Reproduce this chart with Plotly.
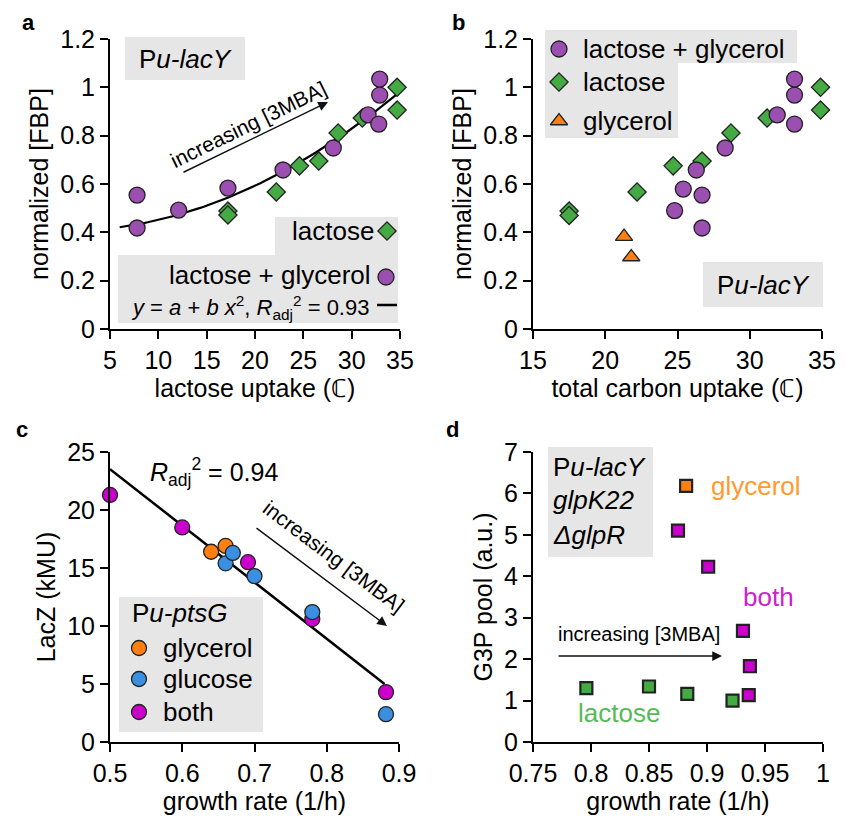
import numpy as np
import plotly.graph_objects as go

PAGE_W, PAGE_H = 845, 823
OFF = 8  # default page body margin
W, H = PAGE_W - OFF, PAGE_H - OFF

# ---------------- data ----------------
# panel a: normalized FBP vs lactose uptake
a_lac_x = [17.2, 17.2, 22.2, 24.6, 26.6, 28.6, 31.1, 34.7, 34.7]
a_lac_y = [0.488, 0.472, 0.567, 0.675, 0.695, 0.811, 0.873, 1.0, 0.906]
a_lg_x = [7.8, 7.8, 12.1, 17.2, 22.9, 28.1, 31.7, 32.8, 32.9, 32.9]
a_lg_y = [0.418, 0.554, 0.492, 0.583, 0.658, 0.749, 0.886, 0.848, 0.968, 1.034]
a_fit_range = [6.0, 34.7]

# panel b: normalized FBP vs total carbon uptake
b_lg_x = [24.8, 25.4, 26.3, 26.7, 26.7, 28.3, 31.9, 33.1, 33.1, 33.1]
b_lg_y = [0.49, 0.579, 0.658, 0.554, 0.418, 0.749, 0.886, 0.848, 0.968, 1.034]
b_lac_x = [17.5, 17.5, 22.2, 24.7, 26.7, 28.7, 31.2, 34.9, 34.9]
b_lac_y = [0.488, 0.47, 0.567, 0.675, 0.695, 0.811, 0.873, 1.0, 0.906]
b_gly_x = [21.3, 21.8]
b_gly_y = [0.382, 0.298]

# panel c: LacZ vs growth rate
c_both_x = [0.5, 0.6, 0.691, 0.78, 0.882]
c_both_y = [21.3, 18.5, 15.5, 10.6, 4.3]
c_gly_x = [0.64, 0.66]
c_gly_y = [16.4, 16.9]
c_glu_x = [0.66, 0.67, 0.70, 0.78, 0.882]
c_glu_y = [15.4, 16.3, 14.3, 11.2, 2.4]
c_fit_range = [0.5, 0.88]

# panel d: G3P pool vs growth rate
d_gly_x = [0.882]
d_gly_y = [6.18]
d_both_x = [0.875, 0.901, 0.931, 0.937, 0.936]
d_both_y = [5.1, 4.23, 2.68, 1.83, 1.13]
d_lac_x = [0.796, 0.85, 0.883, 0.922]
d_lac_y = [1.30, 1.34, 1.16, 1.0]

# ---------------- styles ----------------
FONT = "Liberation Sans, Arial, sans-serif"
TXT = "#000000"
PURPLE = "#9b4fb0"
GREEN = "#44aa44"
ORANGE = "#ff8010"
MAGENTA = "#cc00cc"
BLUE = "#3b8fe0"
GRAY = "#e6e6e6"

fig = go.Figure()

# ---- fits ----
ax_all = np.array(a_lac_x + a_lg_x)
ay_all = np.array(a_lac_y + a_lg_y)
A = np.vstack([np.ones_like(ax_all), ax_all ** 2]).T
(fa, fb), *_ = np.linalg.lstsq(A, ay_all, rcond=None)
xa = np.linspace(a_fit_range[0], a_fit_range[1], 100)
fig.add_trace(go.Scatter(x=xa, y=fa + fb * xa ** 2, mode="lines",
                         line=dict(color="black", width=2.2), xaxis="x", yaxis="y"))

cx_all = np.array(c_both_x + c_gly_x + c_glu_x)
cy_all = np.array(c_both_y + c_gly_y + c_glu_y)
slope, icpt = np.polyfit(cx_all, cy_all, 1)
xc = np.array(c_fit_range)
fig.add_trace(go.Scatter(x=xc, y=icpt + slope * xc, mode="lines",
                         line=dict(color="black", width=2.5), xaxis="x3", yaxis="y3"))


def pts(x, y, sym, color, size, xa_, ya_, lw=1.3):
    fig.add_trace(go.Scatter(x=x, y=y, mode="markers", cliponaxis=False,
                             marker=dict(symbol=sym, color=color, size=size,
                                         line=dict(color="#222222", width=lw)),
                             xaxis=xa_, yaxis=ya_))


# panel a
pts(a_lac_x, a_lac_y, "diamond", GREEN, 14, "x", "y")
pts(a_lg_x, a_lg_y, "circle", PURPLE, 16, "x", "y")
# panel b
pts(b_lac_x, b_lac_y, "diamond", GREEN, 14, "x2", "y2")
pts(b_lg_x, b_lg_y, "circle", PURPLE, 16, "x2", "y2")
pts(b_gly_x, b_gly_y, "triangle-up", ORANGE, 15, "x2", "y2")
# panel c
pts(c_both_x, c_both_y, "circle", MAGENTA, 15, "x3", "y3")
pts(c_gly_x, c_gly_y, "circle", ORANGE, 15, "x3", "y3")
pts(c_glu_x, c_glu_y, "circle", BLUE, 15, "x3", "y3")
# panel d
pts(d_lac_x, d_lac_y, "square", GREEN, 12, "x4", "y4", lw=2.2)
pts(d_both_x, d_both_y, "square", MAGENTA, 12, "x4", "y4", lw=2.2)
pts(d_gly_x, d_gly_y, "square", ORANGE, 12, "x4", "y4", lw=2.2)


# ---- legend symbols (overlay in page pixel space) ----
def sym(x, y, s, color, size):
    fig.add_trace(go.Scatter(x=[x], y=[y], mode="markers", cliponaxis=False,
                             marker=dict(symbol=s, color=color, size=size,
                                         line=dict(color="#222222", width=1.3)),
                             xaxis="x5", yaxis="y5"))


sym(387, 231, "diamond", GREEN, 14)
sym(386, 277, "circle", PURPLE, 16)
fig.add_trace(go.Scatter(x=[377, 397], y=[305, 305], mode="lines",
                         line=dict(color="black", width=2.5), xaxis="x5", yaxis="y5"))
sym(559, 49, "circle", PURPLE, 16)
sym(559, 82, "diamond", GREEN, 14)
sym(559, 121, "triangle-up", ORANGE, 15)
sym(139, 648, "circle", ORANGE, 15)
sym(139, 679, "circle", BLUE, 15)
sym(139, 712, "circle", MAGENTA, 15)


# ---------------- axes ----------------
def px_dom_x(a, b):
    return [(a - OFF) / W, (b - OFF) / W]


def px_dom_y(top, bot):
    return [1 - (bot - OFF) / H, 1 - (top - OFF) / H]


axis_common = dict(showline=True, linecolor="black", linewidth=2, ticks="outside",
                   ticklen=8, tickwidth=2, tickcolor="black", showgrid=False,
                   zeroline=False, automargin=False,
                   tickfont=dict(size=25, family=FONT, color=TXT),
                   title_font=dict(size=25, family=FONT, color=TXT))

lay = dict(
    xaxis=dict(domain=px_dom_x(110, 400), range=[5, 35], dtick=5, anchor="y",
               title=dict(text="lactose uptake (ℂ)", standoff=5), **axis_common),
    yaxis=dict(domain=px_dom_y(39, 329), range=[0, 1.2], dtick=0.2, anchor="x",
               title=dict(text="normalized [FBP]", standoff=4), **axis_common),
    xaxis2=dict(domain=px_dom_x(533, 822), range=[15, 35], dtick=5, anchor="y2",
                title=dict(text="total carbon uptake (ℂ)", standoff=5), **axis_common),
    yaxis2=dict(domain=px_dom_y(39, 329), range=[0, 1.2], dtick=0.2, anchor="x2",
                title=dict(text="normalized [FBP]", standoff=4), **axis_common),
    xaxis3=dict(domain=px_dom_x(110, 399), range=[0.5, 0.9], dtick=0.1, anchor="y3",
                title=dict(text="growth rate (1/h)", standoff=5), **axis_common),
    yaxis3=dict(domain=px_dom_y(452, 742), range=[0, 25], dtick=5, anchor="x3",
                title=dict(text="LacZ (kMU)", standoff=4), **axis_common),
    xaxis4=dict(domain=px_dom_x(533, 823), range=[0.75, 1], dtick=0.05, anchor="y4",
                title=dict(text="growth rate (1/h)", standoff=5), **axis_common),
    yaxis4=dict(domain=px_dom_y(452, 742), range=[0, 7], dtick=1, anchor="x4",
                title=dict(text="G3P pool (a.u.)", standoff=4), **axis_common),
    # overlay axis whose units are page pixels of the screenshot
    xaxis5=dict(domain=[0, 1], range=[OFF, PAGE_W], visible=False, anchor="y5",
                fixedrange=True, automargin=False),
    yaxis5=dict(domain=[0, 1], range=[PAGE_H, OFF], visible=False, anchor="x5",
                fixedrange=True, automargin=False),
)

# ---------------- boxes ----------------
boxes = [
    (125, 37, 245, 80),
    (275, 217, 398, 255), (118, 255, 398, 323),
    (545, 30, 797, 63), (545, 63, 678, 138),
    (703, 262, 823, 307),
    (119, 597, 263, 732),
    (548, 447, 653, 557),
]
shapes = [dict(type="rect", xref="x5", yref="y5", x0=b[0], y0=b[1], x1=b[2], y1=b[3],
               fillcolor=GRAY, line=dict(width=0), layer="below") for b in boxes]


# ---------------- texts ----------------
def txt(x, y, t, size=25, anchor="left", color=TXT, angle=0, vanchor="middle", bold=False):
    return dict(xref="x5", yref="y5", x=x, y=y, text=t, showarrow=False,
                xanchor=anchor, yanchor=vanchor, textangle=angle, borderpad=0,
                font=dict(size=size, family=FONT, color=color,
                          weight="bold" if bold else "normal"))


def arrow(x0, y0, x1, y1):
    return dict(xref="x5", yref="y5", axref="x5", ayref="y5", x=x1, y=y1, ax=x0, ay=y0,
                text="", showarrow=True, arrowhead=2, arrowsize=1.3, arrowwidth=1.5,
                arrowcolor="#111")


ann = [
    txt(28, 22, "a", 22, "center", bold=True),
    txt(458, 22, "b", 22, "center", bold=True),
    txt(22, 429, "c", 22, "center", bold=True),
    txt(452, 429, "d", 22, "center", bold=True),
    # panel a
    txt(185, 59, "P<i>u-lacY</i>", 26, "center"),
    txt(248, 124, "increasing [3MBA]", 21, "center", angle=-26),
    arrow(182, 173, 328, 102),
    txt(375, 231, "lactose", 26, "right"),
    txt(372, 275, "lactose + glycerol", 26, "right"),
    txt(370, 307, "<i>y</i> = <i>a</i> + <i>b x</i><sup>2</sup>, <i>R</i><sub>adj</sub><sup>2</sup> = 0.93",
        22, "right"),
    # panel b
    txt(582, 49, "lactose + glycerol", 26),
    txt(582, 82, "lactose", 26),
    txt(582, 121, "glycerol", 26),
    txt(763, 285, "P<i>u-lacY</i>", 26, "center"),
    # panel c
    txt(214, 472, "<i>R</i><sub>adj</sub><sup>2</sup> = 0.94", 25, "center"),
    txt(334, 556, "increasing [3MBA]", 21, "center", angle=37),
    arrow(255, 527, 387, 626),
    txt(131, 613, "P<i>u-ptsG</i>", 26),
    txt(162, 648, "glycerol", 26),
    txt(162, 679, "glucose", 26),
    txt(162, 712, "both", 26),
    # panel d
    txt(552, 467, "P<i>u-lacY</i>", 26),
    txt(552, 500, "<i>glpK22</i>", 26),
    txt(552, 535, "<i>ΔglpR</i>", 26),
    txt(710, 486, "glycerol", 26, color="#ff9a2e"),
    txt(742, 597, "both", 26, color="#cc22cc"),
    txt(577, 713, "lactose", 26, color="#55bb55"),
    txt(557, 634, "increasing [3MBA]", 20),
    arrow(557, 656, 722, 656),
]

fig.update_layout(width=W, height=H, margin=dict(l=0, r=0, t=0, b=0, autoexpand=False),
                  paper_bgcolor="white", plot_bgcolor="rgba(0,0,0,0)",
                  showlegend=False, shapes=shapes, annotations=ann,
                  font=dict(family=FONT, color=TXT), **lay)

fig.write_html("out.html")
